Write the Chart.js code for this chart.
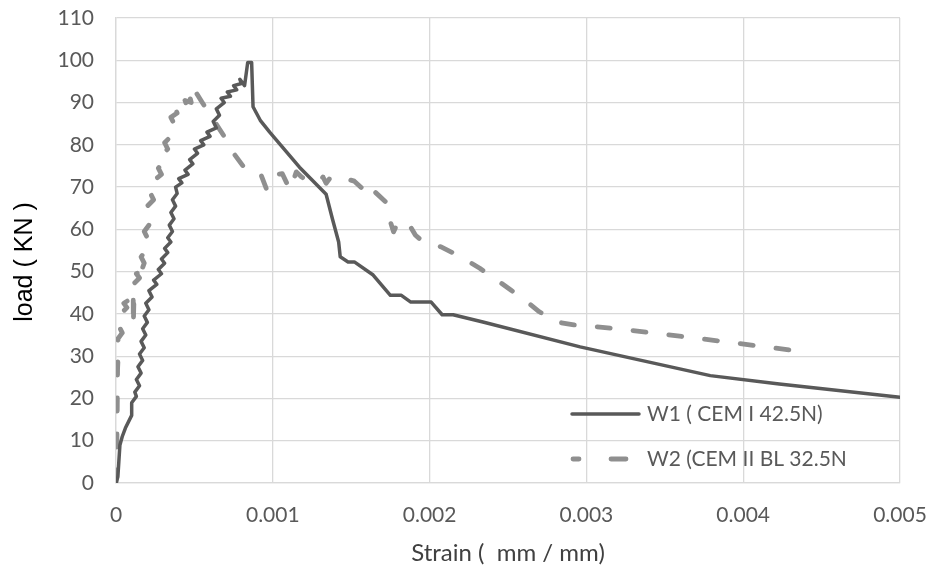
<!DOCTYPE html>
<html>
<head>
<meta charset="utf-8">
<script src="https://cdn.jsdelivr.net/npm/chart.js@4.4.1/dist/chart.umd.min.js"></script>
<style>
  html, body { margin: 0; padding: 0; background: #ffffff; }
  #wrap { width: 930px; height: 571px; }
</style>
</head>
<body>
<div id="wrap"><canvas id="c" width="930" height="571"></canvas></div>
<script>
// ---- Data ----
const seriesNames = ['W1 ( CEM I 42.5N)', 'W2 (CEM II BL 32.5N'];
const xTitle = 'Strain (  mm / mm)';
const yTitle = 'load ( KN )';

const strainW1 = [0, 0.000012, 0.000018, 0.000025, 0.00004, 0.00006, 0.0001, 0.0001,
  0.00013, 0.00012, 0.00015, 0.00013, 0.00016, 0.00014, 0.00017, 0.00015, 0.00018, 0.00016,
  0.00019, 0.00017, 0.0002, 0.00018, 0.00021, 0.00019, 0.00023, 0.00021, 0.00026, 0.00024,
  0.00029, 0.00027, 0.00031, 0.00029, 0.00033, 0.00031, 0.00035, 0.00033, 0.00036, 0.00034,
  0.00037, 0.00035, 0.00038, 0.00036, 0.00039, 0.00038, 0.00042, 0.0004, 0.00046, 0.00044,
  0.00049, 0.00047, 0.00052, 0.0005, 0.00056, 0.00054, 0.0006, 0.00058, 0.00064, 0.00062,
  0.00066, 0.00064, 0.00069, 0.00067, 0.00073, 0.00071, 0.00077, 0.00075, 0.0008, 0.00079,
  0.00082, 0.00084, 0.000865, 0.000874, 0.00092, 0.00098,
  0.00117, 0.00134, 0.00138, 0.00142, 0.00143, 0.00148, 0.00152, 0.00164, 0.00175, 0.00182,
  0.00188, 0.00201, 0.00208, 0.00215, 0.00234, 0.00296, 0.00379, 0.00423, 0.005];
const loadW1 = [0, 1.5, 5, 9, 11, 13, 16, 19,
  20.5, 21.5, 23, 24.5, 26, 27.5, 29, 30.5, 32, 33.5,
  35, 36.5, 38, 39.5, 41, 42.5, 44, 45.5, 47, 48,
  49.5, 50.5, 52, 53, 54.5, 55.5, 57, 58, 59.5, 61,
  62.5, 64, 65.5, 67, 68.5, 70, 71, 72, 73, 74,
  75.5, 76.5, 78, 79, 80, 81, 82, 83, 84, 85.5,
  87, 88.5, 90, 91, 91.5, 92.5, 93, 94, 94.5, 95.5,
  94, 99.5, 99.5, 89, 85.8, 83,
  74.7, 68.3, 62.5, 57, 53.5, 52.3, 52.3, 49.2, 44.4, 44.4,
  42.8, 42.8, 39.8, 39.8, 38.1, 32.2, 25.4, 23.4, 20.3];

const strainW2 = [0, 0.000005, 0.000008, 0.00001,
  0.000015, 0.00003, 0.00001, 0.00004, 0.00002, 0.00005, 0.00003, 0.00007, 0.00005, 0.00009,
  0.00008, 0.00011, 0.00011, 0.000115, 0.00013, 0.00011, 0.00015, 0.00013, 0.00017, 0.00015,
  0.00018, 0.00016, 0.00019, 0.00017, 0.0002, 0.00018, 0.00021, 0.00019, 0.00022, 0.0002,
  0.00024, 0.00022, 0.00026, 0.00024, 0.00029, 0.00027, 0.00031, 0.00029, 0.00033, 0.00031,
  0.00035, 0.00033, 0.00037, 0.00035, 0.00039, 0.00038, 0.00042, 0.00041, 0.00045, 0.00044,
  0.00048, 0.00047, 0.0005, 0.00048, 0.0005,
  0.00055, 0.00062, 0.00069, 0.00075, 0.00082, 0.00092, 0.00096,
  0.001, 0.00106, 0.00111, 0.00115, 0.00118, 0.00123, 0.0013, 0.00132, 0.00134, 0.00137,
  0.00143, 0.00152, 0.00157, 0.00159, 0.00162, 0.00165, 0.00172, 0.00175, 0.00177, 0.00179,
  0.00183, 0.00186, 0.00188, 0.00191, 0.00196, 0.00207, 0.0022, 0.00232, 0.00241, 0.00252,
  0.00262, 0.0027, 0.00281, 0.00292, 0.00317, 0.00342, 0.00389, 0.00414, 0.0044];
const loadW2 = [0, 8, 18, 27,
  31, 32.5, 34, 35.5, 37, 38.5, 40, 41.5, 42.5, 43.5,
  42, 44, 37, 44, 45.5, 47, 48.5, 49.5, 50.5, 49,
  52, 53.5, 55, 56.5, 58, 59.5, 61, 62.5, 64, 65.5,
  67, 68.5, 70, 71.5, 73, 74.5, 76, 77.5, 79, 80.5,
  82, 83.5, 85, 86.5, 87.5, 88.5, 88, 89, 89.5, 90.5,
  90, 91.5, 92.5, 93.5, 93,
  90, 86, 82, 78, 74.5, 73.4, 69.5,
  72.8, 73.2, 69.3, 73.6, 72.5, 71.2, 71.5, 72.4, 70.9, 72.4,
  72.4, 71.4, 69.7, 68.1, 69.5, 68.9, 66.5, 61.8, 59.4, 61,
  59.8, 61, 60.5, 58.6, 57, 55.9, 53.5, 50.8, 48.5, 45.6,
  42.9, 40.5, 38.1, 37.4, 36.6, 35.5, 33.4, 32.2, 31];

const xTickValues = [0, 0.001, 0.002, 0.003, 0.004, 0.005];
const yTickMax = 110;
const yTickStep = 10;

// ---- Build ----
const toPoints = (xs, ys) => xs.map((x, i) => ({ x: x, y: ys[i] }));
const FONT = "Lato, 'Open Sans', 'Liberation Sans', sans-serif";
const W1_COLOR = '#595959';
const W2_COLOR = '#8f8f8f';

const extras = {
  id: 'extras',
  afterDatasetsDraw(chart) {
    const ctx = chart.ctx;
    ctx.save();
    ctx.lineCap = 'round';
    // legend: W1 entry
    ctx.strokeStyle = W1_COLOR;
    ctx.lineWidth = 3.5;
    ctx.beginPath();
    ctx.moveTo(572, 414);
    ctx.lineTo(639, 414);
    ctx.stroke();
    // legend: W2 entry
    ctx.strokeStyle = W2_COLOR;
    ctx.lineWidth = 4.8;
    ctx.beginPath();
    ctx.moveTo(573, 459); ctx.lineTo(579, 459);
    ctx.moveTo(611, 459); ctx.lineTo(626, 459);
    ctx.stroke();
    ctx.fillStyle = '#595959';
    ctx.font = "21px " + FONT;
    ctx.textBaseline = 'middle';
    ctx.textAlign = 'left';
    ctx.fillText(seriesNames[0], 647, 414);
    ctx.fillText(seriesNames[1], 647, 459);
    // y-axis title
    ctx.translate(25, 262);
    ctx.rotate(-Math.PI / 2);
    ctx.fillStyle = '#000000';
    ctx.font = "25px 'Liberation Sans', Arial, sans-serif";
    ctx.textAlign = 'center';
    ctx.textBaseline = 'middle';
    ctx.fillText(yTitle, 0, 0);
    ctx.restore();
  }
};

new Chart(document.getElementById('c'), {
  type: 'line',
  data: {
    datasets: [
      {
        label: seriesNames[0],
        data: toPoints(strainW1, loadW1),
        borderColor: W1_COLOR,
        borderWidth: 3.5,
        pointRadius: 0,
        tension: 0,
        fill: false,
        borderJoinStyle: 'round',
        borderCapStyle: 'round'
      },
      {
        label: seriesNames[1],
        data: toPoints(strainW2, loadW2),
        borderColor: W2_COLOR,
        borderWidth: 4.8,
        borderDash: [13, 23],
        borderCapStyle: 'round',
        borderJoinStyle: 'round',
        pointRadius: 0,
        tension: 0,
        fill: false
      }
    ]
  },
  options: {
    responsive: false,
    animation: false,
    devicePixelRatio: 1,
    layout: { padding: { left: 0, right: 30, top: 18, bottom: 0 } },
    plugins: {
      legend: { display: false },
      tooltip: { enabled: false }
    },
    scales: {
      x: {
        type: 'linear',
        min: 0,
        max: 0.005,
        afterBuildTicks(scale) { scale.ticks = xTickValues.map(v => ({ value: v })); },
        afterFit(scale) {
          scale.height = 88;
          scale.paddingLeft = 0; scale.paddingRight = 0;
        },
        grid: { color: '#d9d9d9', lineWidth: 1.3, drawTicks: false },
        border: { color: '#d9d9d9', width: 1.3 },
        ticks: {
          padding: 20,
          maxRotation: 0,
          color: '#595959',
          font: { family: FONT, size: 21 },
          callback: (v) => (v === 0 ? '0' : Number(v).toFixed(3))
        },
        title: {
          display: true,
          text: xTitle,
          color: '#404040',
          font: { family: FONT, size: 24 },
          padding: { top: 0, bottom: 3 }
        }
      },
      y: {
        type: 'linear',
        min: 0,
        max: yTickMax,
        ticks: {
          stepSize: yTickStep,
          padding: 22,
          color: '#595959',
          font: { family: FONT, size: 21 }
        },
        afterFit(scale) {
          scale.width = 116;
          scale.paddingTop = 0; scale.paddingBottom = 0;
        },
        grid: { color: '#d9d9d9', lineWidth: 1.3, drawTicks: false },
        border: { color: '#d9d9d9', width: 1.3 }
      }
    }
  },
  plugins: [extras]
});
</script>
</body>
</html>
